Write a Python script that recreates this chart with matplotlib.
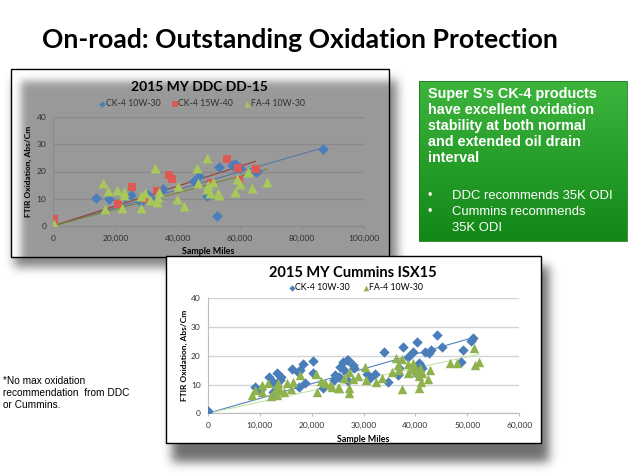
import numpy as np
import matplotlib
matplotlib.use("Agg")
import matplotlib.pyplot as plt
from matplotlib.patches import Rectangle
from matplotlib.ticker import FuncFormatter

W, H = 641, 476

# DDC DD-15 (miles in thousands, FTIR oxidation Abs/cm)
ddc_ck4_10w30_k = [13.7, 17.9, 23.0, 24.9, 28.1, 30.6, 33.3, 35.2, 45.3, 46.8, 49.4, 52.8, 53.4,
                   57.4, 58.6, 60.0, 65.1, 65.5, 86.9]
ddc_ck4_10w30_y = [10.3, 9.7, 10.7, 11.3, 8.9, 11.3, 10.3, 13.5, 16.5, 18.5, 11.0, 3.6, 21.7,
                   22.4, 22.9, 21.4, 19.7, 20.2, 28.3]
ddc_ck4_15w40_k = [0.2, 0.0, 20.9, 25.2, 29.5, 33.3, 37.1, 38.2, 50.9, 55.9, 59.3, 59.9, 65.1]
ddc_ck4_15w40_y = [2.5, 1.5, 7.9, 14.4, 9.8, 12.8, 18.7, 17.2, 15.6, 24.5, 21.2, 16.7, 20.9]
ddc_fa4_10w30_k = [0.2, 16.1, 16.6, 17.5, 20.4, 22.1, 22.9, 22.9, 28.1, 28.1, 29.5, 31.1, 32.7,
                   33.3, 33.8, 34.1, 39.9, 40.2, 42.1, 46.1, 46.7, 49.4, 49.6, 49.9, 50.4, 51.3,
                   53.1, 53.4, 58.6, 59.0, 60.1, 62.8, 64.1, 68.7]
ddc_fa4_10w30_y = [0.5, 15.6, 6.2, 12.8, 13.2, 6.4, 12.6, 11.3, 11.1, 6.4, 12.0, 9.5, 21.2,
                   8.6, 10.7, 12.6, 9.8, 14.8, 7.4, 21.2, 15.6, 25.1, 13.5, 15.0, 11.9, 16.2,
                   11.9, 11.3, 12.3, 17.2, 15.3, 19.9, 14.0, 16.0]

# Cummins ISX15
isx_ck4_10w30_k = [0, 9.2, 10.1, 11.8, 12.5, 12.6, 13.3, 13.9, 14.2, 16.3, 17.3, 17.6, 18.3, 18.7,
                   20.2, 20.2, 22.2, 24.4, 24.6, 25.3, 25.5, 26.1, 26.3, 27.0, 27.1, 28.0, 28.2,
                   30.6, 31.3, 32.2, 34.0, 34.7, 36.7, 36.9, 37.7, 38.5, 39.6, 40.1, 40.3, 40.6,
                   40.9, 41.3, 41.9, 42.6, 43.0, 44.1, 45.2, 48.8, 49.1, 50.7, 51.0, 17.8, 26.8]
isx_ck4_10w30_y = [0.8, 9.3, 8.1, 12.8, 11.0, 7.5, 13.9, 11.6, 12.8, 15.4, 14.5, 9.3, 17.2, 10.4,
                   18.2, 13.9, 8.7, 11.6, 13.3, 12.8, 16.2, 18.0, 15.1, 18.6, 11.2, 16.8, 15.7,
                   13.6, 12.2, 13.6, 21.4, 11.0, 13.3, 15.7, 23.2, 19.7, 21.4, 13.9, 24.9, 17.4,
                   16.8, 15.7, 21.4, 20.9, 22.0, 27.2, 23.2, 18.0, 22.0, 25.2, 26.3, 15.1, 18.5]
isx_fa4_10w30_k = [8.6, 9.1, 10.4, 10.5, 11.7, 12.2, 13.0, 13.3, 13.6, 13.6, 13.9, 14.6, 15.2,
                   16.0, 16.5, 17.8, 20.8, 21.0, 21.9, 22.6, 23.6, 23.9, 25.0, 25.3, 26.3, 27.2,
                   27.2, 27.3, 27.9, 29.0, 30.2, 30.4, 32.5, 33.5, 35.4, 36.3, 36.6, 36.8, 37.5,
                   37.5, 38.5, 38.6, 39.3, 39.5, 39.9, 40.2, 40.6, 40.7, 40.9, 41.1, 41.2, 42.4,
                   42.8, 46.7, 48.1, 51.3, 51.5, 52.3]
isx_fa4_10w30_y = [6.4, 8.1, 9.9, 7.3, 10.4, 6.1, 8.1, 6.4, 10.4, 9.3, 8.1, 7.3, 10.4,
                   8.5, 11.0, 13.3, 13.7, 7.5, 11.2, 10.4, 9.9, 9.3, 8.7, 8.9, 12.4, 14.5,
                   7.0, 8.7, 11.9, 13.1, 16.2, 11.6, 10.8, 12.2, 14.3, 19.1, 16.8, 15.1, 8.5,
                   18.8, 17.1, 14.0, 15.7, 17.4, 15.4, 14.5, 8.7, 13.1, 15.7, 11.0, 14.0, 12.0,
                   15.1, 17.4, 17.4, 22.8, 16.8, 18.0]

box_head = ["Super S\u2019s CK-4 products", "have excellent oxidation",
            "stability at both normal", "and extended oil drain", "interval"]
box_bullets = [["DDC recommends 35K ODI"], ["Cummins recommends", "35K ODI"]]
note_lines = ["*No max oxidation", "recommendation  from DDC", "or Cummins."]

fig = plt.figure(figsize=(W / 100, H / 100), dpi=100)
fig.patch.set_facecolor("white")
renderer = fig.canvas.get_renderer()


def fit(t, width):
    w = t.get_window_extent(renderer).width
    t.set_fontsize(t.get_fontsize() * width / w)


def blur(a, s):
    k = np.exp(-0.5 * (np.arange(-3 * s, 3 * s + 1) / s) ** 2)
    k /= k.sum()
    a = np.apply_along_axis(lambda r: np.convolve(r, k, mode="same"), 0, a)
    a = np.apply_along_axis(lambda r: np.convolve(r, k, mode="same"), 1, a)
    return a


def soft(x0, y0, x1, y1, s, rgb, alpha, clip=None):
    m = np.zeros((H, W))
    m[y0:y1, x0:x1] = 1
    m = blur(m, s)
    if clip is not None:
        c = np.zeros((H, W))
        c[clip[1]:clip[3], clip[0]:clip[2]] = 1
        m = m * c
    img = np.zeros((H, W, 4))
    img[..., :3] = rgb
    img[..., 3] = m * alpha
    return img


def px_axes(x0, y0, x1, y1, z):
    return fig.add_axes([x0 / W, 1 - y1 / H, (x1 - x0) / W, (y1 - y0) / H], zorder=z)


def full_axes(z):
    a = fig.add_axes([0, 0, 1, 1], zorder=z)
    a.set_xlim(0, W)
    a.set_ylim(H, 0)
    a.axis("off")
    a.patch.set_alpha(0)
    return a


miles = FuncFormatter(lambda v, p: f"{int(v):,}")
font = "Lato"

# ---- background layer: title, DDC frame, green box, note
bg = full_axes(0)
t = bg.text(299.5, 48, "On-road: Outstanding Oxidation Protection", ha="center", va="baseline",
            fontsize=20, fontweight="bold", family=font, color="black")
fit(t, 515)

bg.imshow(soft(14, 80, 397, 267, 5, (0.3, 0.3, 0.3), 0.7), extent=(0, W, H, 0), zorder=1)
bg.add_patch(Rectangle((11, 69), 378, 188, facecolor="white", edgecolor="none", zorder=2))
bg.imshow(soft(21, 81, 400, 270, 4, (0.6, 0.6, 0.6), 1.0, clip=(11, 69, 389, 257)),
          extent=(0, W, H, 0), zorder=3)
bg.add_patch(Rectangle((11, 69), 378, 188, facecolor="none", edgecolor="black", lw=1.0, zorder=4))
t1 = bg.text(199, 91, "2015 MY DDC DD-15", ha="center", va="baseline", fontsize=12,
             fontweight="bold", family=font, zorder=5)
fit(t1, 137)
bg.set_xlim(0, W)
bg.set_ylim(H, 0)

# green box with vertical gradient
grad = np.linspace(0, 1, 160)[:, None]
top = np.array([0.24, 0.71, 0.24])
bot = np.array([0.07, 0.53, 0.09])
gimg = top + (bot - top) * grad[..., None]
gimg = np.repeat(gimg, 2, axis=1)
bg.imshow(gimg, extent=(419, 627, 241, 81), aspect="auto", zorder=2)
bg.add_patch(Rectangle((419, 81), 208, 160, facecolor="none", edgecolor="#1b7a1b", lw=0.6, zorder=3))
hs = []
for i, line in enumerate(box_head):
    hs.append(bg.text(428, 98 + 16 * i, line, color="white", fontweight="bold",
                      family="Liberation Sans", fontsize=10, va="baseline", zorder=4))
fit(hs[1], 166)
for h in hs:
    h.set_fontsize(hs[1].get_fontsize())
yb = 199
bts = []
for item in box_bullets:
    bg.text(428, yb, "\u2022", color="white", family="Liberation Sans", fontsize=9,
            va="baseline", zorder=4)
    for j, line in enumerate(item):
        bts.append(bg.text(452, yb + 16 * j, line, color="white", family="Liberation Sans",
                           fontsize=9, va="baseline", zorder=4))
    yb += 16 * len(item)
fit(bts[0], 160)
for b in bts:
    b.set_fontsize(bts[0].get_fontsize())

ns = []
for i, line in enumerate(note_lines):
    ns.append(bg.text(3, 384 + 12 * i, line, color="black", family="Liberation Sans",
                      fontsize=7, va="baseline"))
fit(ns[1], 126)
for n in ns:
    n.set_fontsize(ns[1].get_fontsize())


def style(ax, xmax, xstep, gridc, tickc, spinec):
    ax.set_facecolor("none")
    ax.set_xlim(0, xmax)
    ax.set_ylim(0, 40)
    ax.set_xticks(np.arange(0, xmax + 1, xstep))
    ax.set_yticks([0, 10, 20, 30, 40])
    ax.xaxis.set_major_formatter(miles)
    ax.grid(axis="y", color=gridc, lw=1.0)
    ax.set_axisbelow(True)
    for s in ["top", "right"]:
        ax.spines[s].set_visible(False)
    for s in ["left", "bottom"]:
        ax.spines[s].set_color(spinec)
        ax.spines[s].set_linewidth(0.8)
    ax.tick_params(axis="y", length=0, labelsize=6.0, labelcolor=tickc, pad=5)
    ax.tick_params(axis="x", length=2.5, color=spinec, labelsize=6.0, labelcolor=tickc, pad=4)
    for lab in ax.get_xticklabels() + ax.get_yticklabels():
        lab.set_family(font)


def trend(ax, xk, y, color):
    x = np.array(xk) * 1000
    y = np.array(y)
    slope = (x * y).sum() / (x * x).sum()
    xs = np.array([0, x.max()])
    ax.plot(xs, slope * xs, color=color, lw=0.8, zorder=3)


# ---- DDC chart
ax1 = px_axes(53.3, 117.3, 364, 225.7, 1)
style(ax1, 100000, 20000, "#8a8a8a", "#2e2e2e", "#8a8a8a")
h1 = ax1.scatter(np.array(ddc_ck4_10w30_k) * 1000, ddc_ck4_10w30_y, marker="D", s=30,
                 color="#4a7ebb", zorder=4, label="CK-4 10W-30", linewidths=0)
h2 = ax1.scatter(np.array(ddc_ck4_15w40_k) * 1000, ddc_ck4_15w40_y, marker="s", s=40,
                 color="#dc5a55", zorder=4, label="CK-4 15W-40", linewidths=0)
h3 = ax1.scatter(np.array(ddc_fa4_10w30_k) * 1000, ddc_fa4_10w30_y, marker="^", s=52,
                 color="#a8c85a", zorder=5, label="FA-4 10W-30", linewidths=0)
trend(ax1, ddc_ck4_10w30_k, ddc_ck4_10w30_y, "#55789f")
trend(ax1, ddc_ck4_15w40_k, ddc_ck4_15w40_y, "#9a3e3a")
trend(ax1, ddc_fa4_10w30_k, ddc_fa4_10w30_y, "#76843a")
ax1.set_ylabel("FTIR Oxidation, Abs/Cm", fontsize=6.0, fontweight="bold", family=font)
ax1.yaxis.set_label_coords(-0.07, 0.5)
ax1.set_xlabel("Sample Miles", fontsize=6.4, fontweight="bold", family=font)
ax1.xaxis.set_label_coords(0.5, -0.2)
leg1 = ax1.legend(handles=[h1, h2, h3], loc="center", bbox_to_anchor=(0.479, 1.123), ncol=3,
                  frameon=False, prop={"family": font, "size": 6.3}, handlelength=0.6,
                  handletextpad=0.1, columnspacing=1.3, borderpad=0, markerscale=0.6)
for txt in leg1.get_texts():
    txt.set_color("#2e2e2e")

# ---- Cummins layer
cb = full_axes(2)
cb.imshow(soft(172, 266, 549, 462, 5, (0.25, 0.25, 0.25), 0.75), extent=(0, W, H, 0), zorder=1)
cb.add_patch(Rectangle((166, 256), 375, 187, facecolor="white", edgecolor="black", lw=1.0, zorder=2))
cb.set_xlim(0, W)
cb.set_ylim(H, 0)
t2 = cb.text(353, 277, "2015 MY Cummins ISX15", ha="center", va="baseline", fontsize=12,
             fontweight="bold", family=font, zorder=3)
fit(t2, 167)

ax2 = px_axes(207.7, 298.3, 519.3, 413.3, 3)
style(ax2, 60000, 10000, "#d4d4d4", "#333333", "#bfbfbf")
g1 = ax2.scatter(np.array(isx_ck4_10w30_k) * 1000, isx_ck4_10w30_y, marker="D", s=28,
                 color="#4a7ebb", zorder=4, label="CK-4 10W-30", linewidths=0)
g2 = ax2.scatter(np.array(isx_fa4_10w30_k) * 1000, isx_fa4_10w30_y, marker="^", s=46,
                 color="#8fb24f", zorder=5, label="FA-4 10W-30", linewidths=0)
trend(ax2, isx_ck4_10w30_k, isx_ck4_10w30_y, "#4f81bd")
trend(ax2, isx_fa4_10w30_k, isx_fa4_10w30_y, "#c6e0a6")
ax2.set_ylabel("FTIR Oxidation, Abs/Cm", fontsize=6.0, fontweight="bold", family=font)
ax2.yaxis.set_label_coords(-0.062, 0.5)
ax2.set_xlabel("Sample Miles", fontsize=6.4, fontweight="bold", family=font)
ax2.xaxis.set_label_coords(0.5, -0.19)
leg2 = ax2.legend(handles=[g1, g2], loc="center", bbox_to_anchor=(0.476, 1.09), ncol=2,
                  frameon=False, prop={"family": font, "size": 6.3}, handlelength=0.6,
                  handletextpad=0.1, columnspacing=1.5, borderpad=0, markerscale=0.6)

fig.savefig("out.png", dpi=100, facecolor="white")
